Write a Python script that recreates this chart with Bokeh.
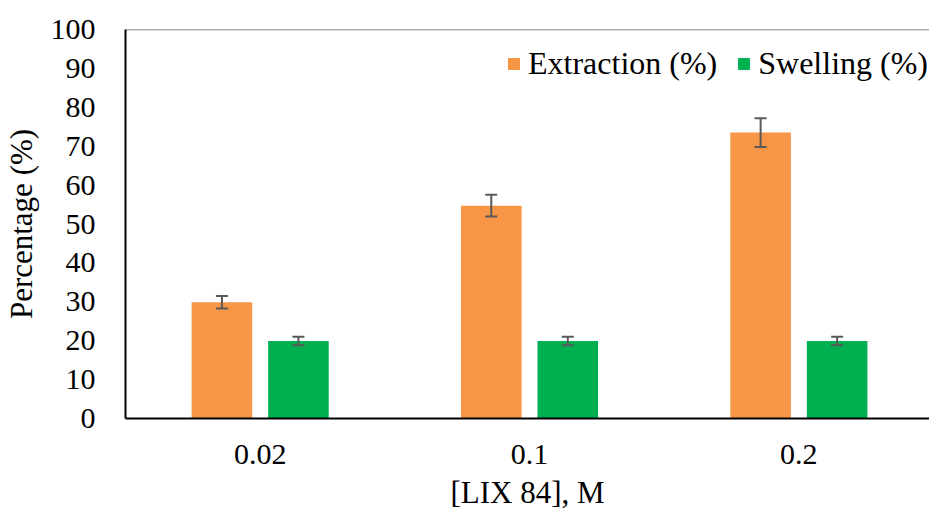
from bokeh.plotting import figure
from bokeh.models import (ColumnDataSource, Range1d, FixedTicker, SingleIntervalTicker,
                          Whisker, TeeHead, Span, Legend, LegendItem)
from bokeh.embed import file_html
from bokeh.resources import INLINE

# ---- data ----
concentrations = ["0.02", "0.1", "0.2"]
extraction = [29.9, 54.7, 73.5]
extraction_err = [1.6, 2.8, 3.7]
swelling = [19.9, 19.9, 19.9]
swelling_err = [1.1, 1.1, 1.1]

ORANGE = "#F79646"
GREEN = "#00B050"
ERR = "#595959"
FONT = "'Liberation Serif', 'Times New Roman', serif"

positions = [i + 0.5 for i in range(len(concentrations))]
off = 0.142
bw = 0.225

ext_src = ColumnDataSource(dict(
    x=[c - off for c in positions], top=extraction,
    upper=[v + e for v, e in zip(extraction, extraction_err)],
    lower=[v - e for v, e in zip(extraction, extraction_err)]))
sw_src = ColumnDataSource(dict(
    x=[c + off for c in positions], top=swelling,
    upper=[v + e for v, e in zip(swelling, swelling_err)],
    lower=[v - e for v, e in zip(swelling, swelling_err)]))

p = figure(width=929, height=516, output_backend="svg", toolbar_location=None,
           x_range=Range1d(0, 2.985), y_range=Range1d(0, 100),
           min_border_left=124, min_border_right=0, min_border_top=29,
           min_border_bottom=98)
p.outline_line_color = None
p.xgrid.grid_line_color = None
p.ygrid.grid_line_color = None
p.background_fill_color = "white"
p.border_fill_color = "white"

r1 = p.vbar(x="x", top="top", width=bw, source=ext_src, fill_color=ORANGE, line_color=None)
r2 = p.vbar(x="x", top="top", width=bw, source=sw_src, fill_color=GREEN, line_color=None)

for src in (ext_src, sw_src):
    w = Whisker(base="x", upper="upper", lower="lower", source=src, dimension="height",
                line_color=ERR, line_width=2, level="overlay",
                upper_head=TeeHead(size=12, line_color=ERR, line_width=2),
                lower_head=TeeHead(size=12, line_color=ERR, line_width=2))
    p.add_layout(w)

p.add_layout(Span(location=100, dimension="width", line_color=ERR, line_width=1.5))

# axes
p.xaxis.ticker = FixedTicker(ticks=positions)
p.xaxis.major_label_overrides = {pos: lab for pos, lab in zip(positions, concentrations)}
p.yaxis.ticker = SingleIntervalTicker(interval=10)
for ax in (p.xaxis[0], p.yaxis[0]):
    ax.major_tick_line_color = None
    ax.minor_tick_line_color = None
    ax.major_tick_out = 0
    ax.major_tick_in = 0
    ax.axis_line_color = "black"
    ax.axis_line_width = 2
    ax.major_label_text_font = FONT
    ax.major_label_text_font_size = "30px"
    ax.major_label_text_color = "black"
    ax.axis_label_text_font = FONT
    ax.axis_label_text_font_size = "31px"
    ax.axis_label_text_font_style = "normal"
    ax.axis_label_text_color = "black"

p.xaxis.axis_label = "[LIX 84], M"
p.yaxis.axis_label = "Percentage (%)"
p.xaxis.major_label_standoff = 26
p.xaxis.axis_label_standoff = 8
p.yaxis.major_label_standoff = 26
p.yaxis.axis_label_standoff = 9

legend = Legend(items=[LegendItem(label="Extraction (%)", renderers=[r1]),
                       LegendItem(label="Swelling (%)", renderers=[r2])],
                orientation="horizontal", location=(381, 336),
                glyph_width=15, glyph_height=15, label_standoff=7, spacing=19,
                padding=0, margin=0, border_line_color=None,
                background_fill_alpha=0,
                label_text_font=FONT, label_text_font_size="32px",
                label_text_color="black")
p.add_layout(legend)

open("out.html", "w").write(file_html(p, INLINE))
